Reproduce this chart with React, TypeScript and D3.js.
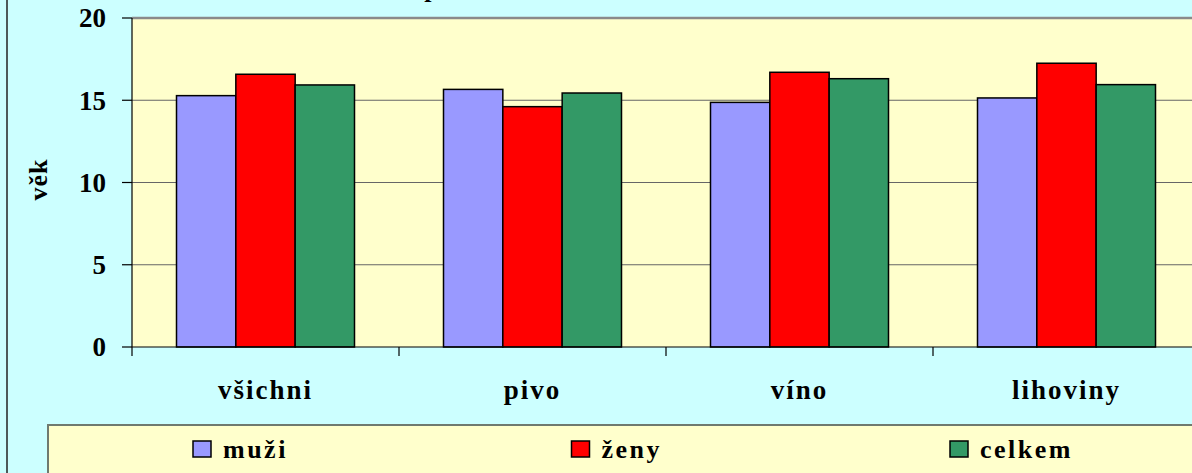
import React, { useEffect, useRef } from "react";
import * as d3 from "d3";

const categories = ["všichni", "pivo", "víno", "lihoviny"];
const series = ["muži", "ženy", "celkem"];
const colors = ["#9999FF", "#FF0000", "#339966"];
const muzi = [15.28, 15.66, 14.87, 15.14];
const zeny = [16.58, 14.61, 16.7, 17.25];
const celkem = [15.93, 15.44, 16.31, 15.95];
const yTicks = [0, 5, 10, 15, 20];
const title = "Věk první zkušenosti s alkoholem";

const App = () => {
  const svgRef = useRef<SVGSVGElement>(null);

  useEffect(() => {
    const svg = d3.select(svgRef.current);
    svg.selectAll("*").remove();

    const width = 1192;
    const height = 473;
    const font = "'Liberation Serif', 'Times New Roman', serif";
    const values = [muzi, zeny, celkem];

    // background + left frame line
    svg.append("rect").attr("width", width).attr("height", height).attr("fill", "#CCFFFF");
    svg.append("line")
      .attr("x1", 7).attr("x2", 7).attr("y1", 0).attr("y2", height)
      .attr("stroke", "#222").attr("stroke-width", 1.5);

    // title, mostly cut off above the picture
    svg.append("text")
      .attr("x", 373).attr("y", -3)
      .attr("font-family", font).attr("font-weight", "bold").attr("font-size", 26)
      .text(title);

    const x = d3.scaleBand().domain(categories).range([132, 1200]);
    const xs = d3.scaleBand().domain(series).range([0, x.bandwidth()])
      .paddingInner(0).paddingOuter(0.75);
    const y = d3.scaleLinear().domain([0, 20]).range([347, 18]);

    // plot area
    svg.append("rect")
      .attr("x", 132).attr("y", y(20))
      .attr("width", 1200 - 132).attr("height", y(0) - y(20))
      .attr("fill", "#FFFFCC");

    // gridlines
    svg.selectAll(".grid")
      .data(yTicks.filter((t) => t > 0))
      .join("line")
      .attr("class", "grid")
      .attr("x1", 132).attr("x2", 1200)
      .attr("y1", (d) => y(d)).attr("y2", (d) => y(d))
      .attr("stroke", (d) => (d === 20 ? "#8a8a8a" : "#666"))
      .attr("stroke-width", (d) => (d === 20 ? 2.5 : 1.2));

    // bars
    series.forEach((s, si) => {
      svg.selectAll(".bar-" + si)
        .data(values[si])
        .join("rect")
        .attr("class", "bar-" + si)
        .attr("x", (_d, i) => (x(categories[i]) as number) + (xs(s) as number))
        .attr("y", (d) => y(d))
        .attr("width", xs.bandwidth())
        .attr("height", (d) => y(0) - y(d))
        .attr("fill", colors[si])
        .attr("stroke", "#000")
        .attr("stroke-width", 1.5);
    });

    // y axis
    svg.append("line")
      .attr("x1", 132).attr("x2", 132).attr("y1", y(20)).attr("y2", y(0))
      .attr("stroke", "#000").attr("stroke-width", 1.2);
    svg.selectAll(".ytick")
      .data(yTicks)
      .join("line")
      .attr("class", "ytick")
      .attr("x1", 122).attr("x2", 132)
      .attr("y1", (d) => y(d)).attr("y2", (d) => y(d))
      .attr("stroke", "#000").attr("stroke-width", 1.2);
    svg.selectAll(".ylabel")
      .data(yTicks)
      .join("text")
      .attr("class", "ylabel")
      .attr("x", 106).attr("y", (d) => y(d))
      .attr("dy", "0.35em")
      .attr("text-anchor", "end")
      .attr("font-family", font).attr("font-weight", "bold").attr("font-size", 27)
      .text((d) => d);

    svg.append("text")
      .attr("transform", `translate(47, ${y(10) - 3}) rotate(-90)`)
      .attr("text-anchor", "middle")
      .attr("font-family", font).attr("font-weight", "bold").attr("font-size", 26)
      .attr("letter-spacing", 1)
      .text("věk");

    // x axis
    svg.append("line")
      .attr("x1", 132).attr("x2", 1200).attr("y1", y(0)).attr("y2", y(0))
      .attr("stroke", "#000").attr("stroke-width", 1.2);
    svg.selectAll(".xtick")
      .data(categories.concat(["end"]))
      .join("line")
      .attr("class", "xtick")
      .attr("x1", (_d, i) => 132 + i * x.bandwidth())
      .attr("x2", (_d, i) => 132 + i * x.bandwidth())
      .attr("y1", y(0)).attr("y2", y(0) + 9)
      .attr("stroke", "#000").attr("stroke-width", 1.2);
    svg.selectAll(".xlabel")
      .data(categories)
      .join("text")
      .attr("class", "xlabel")
      .attr("x", (d) => (x(d) as number) + x.bandwidth() / 2)
      .attr("y", 399)
      .attr("text-anchor", "middle")
      .attr("font-family", font).attr("font-weight", "bold").attr("font-size", 27)
      .attr("letter-spacing", 2)
      .text((d) => d);

    // legend
    svg.append("rect")
      .attr("x", 48).attr("y", 425)
      .attr("width", 1300).attr("height", 100)
      .attr("fill", "#FFFFCC")
      .attr("stroke", "#6f7a6f").attr("stroke-width", 2);
    const lx = d3.scaleLinear().domain([0, 1]).range([193, 571.5]);
    const items = svg.selectAll(".legend")
      .data(series)
      .join("g")
      .attr("class", "legend")
      .attr("transform", (_d, i) => `translate(${lx(i)}, 441)`);
    items.append("rect")
      .attr("width", 18).attr("height", 16)
      .attr("fill", (_d, i) => colors[i])
      .attr("stroke", "#000").attr("stroke-width", 1.5);
    items.append("text")
      .attr("x", 30).attr("y", 17)
      .attr("font-family", font).attr("font-weight", "bold").attr("font-size", 26)
      .attr("letter-spacing", 2.5)
      .text((d) => d);
  }, []);

  return (
    <svg
      ref={svgRef}
      width={1192}
      height={473}
      style={{ position: "absolute", left: 0, top: 0 }}
    />
  );
};

export default App;
